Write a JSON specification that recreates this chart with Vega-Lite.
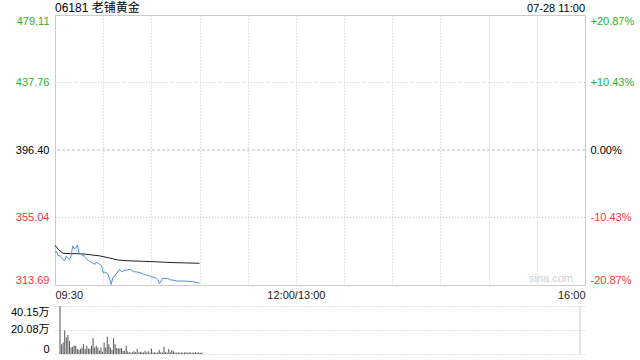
{
  "$schema": "https://vega.github.io/schema/vega-lite/v6.json",
  "padding": {"left": 10, "top": 1, "right": 0, "bottom": 0},
  "background": "white",
  "spacing": 4,
  "config": {
    "font": "Liberation Sans, Noto Sans CJK SC",
    "axis": {"labelFont": "Liberation Sans, Noto Sans CJK SC", "labelFontSize": 11, "ticks": false, "domain": false, "title": null},
    "view": {"stroke": "#ccc"}
  },
  "datasets": {
    "price": [
      {"m": 0, "p": 333.5}, {"m": 1, "p": 334.5}, {"m": 2, "p": 331.5}, {"m": 3, "p": 332.0}, {"m": 4, "p": 330.4},
      {"m": 5, "p": 329.6}, {"m": 6, "p": 328.4}, {"m": 7, "p": 331.5}, {"m": 8, "p": 330.2}, {"m": 9, "p": 329.4},
      {"m": 10, "p": 331.5}, {"m": 11, "p": 337.6}, {"m": 12, "p": 335.8}, {"m": 13, "p": 336.4}, {"m": 14, "p": 338.2},
      {"m": 15, "p": 332.5}, {"m": 16, "p": 333.0}, {"m": 17, "p": 331.5}, {"m": 18, "p": 331.9}, {"m": 19, "p": 330.4},
      {"m": 20, "p": 329.5}, {"m": 21, "p": 328.4}, {"m": 22, "p": 328.0}, {"m": 23, "p": 327.4}, {"m": 24, "p": 326.8},
      {"m": 25, "p": 326.4}, {"m": 26, "p": 327.8}, {"m": 27, "p": 326.9}, {"m": 28, "p": 326.4}, {"m": 29, "p": 325.3},
      {"m": 30, "p": 321.2}, {"m": 31, "p": 321.6}, {"m": 32, "p": 321.0}, {"m": 33, "p": 320.2}, {"m": 34, "p": 317.4},
      {"m": 35, "p": 314.1}, {"m": 36, "p": 318.2}, {"m": 37, "p": 319.0}, {"m": 38, "p": 320.2}, {"m": 39, "p": 321.5},
      {"m": 40, "p": 323.3}, {"m": 41, "p": 322.3}, {"m": 42, "p": 321.8}, {"m": 43, "p": 322.6}, {"m": 45, "p": 322.9},
      {"m": 47, "p": 323.3}, {"m": 49, "p": 321.8}, {"m": 51, "p": 321.7}, {"m": 53, "p": 321.2}, {"m": 55, "p": 320.4},
      {"m": 57, "p": 319.8}, {"m": 59, "p": 319.2}, {"m": 60, "p": 318.6}, {"m": 62, "p": 318.3}, {"m": 63, "p": 317.8},
      {"m": 64, "p": 316.8}, {"m": 65, "p": 314.5}, {"m": 66, "p": 316.1}, {"m": 67, "p": 317.8}, {"m": 70, "p": 317.7},
      {"m": 72, "p": 316.8}, {"m": 74, "p": 316.6}, {"m": 76, "p": 316.1}, {"m": 78, "p": 316.1}, {"m": 81, "p": 316.1},
      {"m": 84, "p": 315.8}, {"m": 86, "p": 315.7}, {"m": 88, "p": 315.2}, {"m": 90, "p": 314.9}
    ],
    "avg": [
      {"m": 0, "a": 338.0}, {"m": 2, "a": 335.6}, {"m": 5, "a": 333.1}, {"m": 10, "a": 332.9}, {"m": 16, "a": 332.9},
      {"m": 22, "a": 332.2}, {"m": 28, "a": 331.5}, {"m": 34, "a": 330.2}, {"m": 39, "a": 329.0}, {"m": 44, "a": 328.6},
      {"m": 49, "a": 328.4}, {"m": 55, "a": 328.2}, {"m": 61, "a": 328.0}, {"m": 67, "a": 327.7}, {"m": 74, "a": 327.4},
      {"m": 82, "a": 327.2}, {"m": 90, "a": 327.0}
    ],
    "vol": [
      {"m": 0, "v": 40.1}, {"m": 1, "v": 8.2}, {"m": 2, "v": 9.6}, {"m": 3, "v": 19.7}, {"m": 4, "v": 13.7},
      {"m": 5, "v": 15.8}, {"m": 6, "v": 10.9}, {"m": 7, "v": 5.5}, {"m": 8, "v": 6.0}, {"m": 9, "v": 6.8},
      {"m": 10, "v": 6.8}, {"m": 11, "v": 4.1}, {"m": 12, "v": 3.5}, {"m": 13, "v": 4.1}, {"m": 14, "v": 5.5},
      {"m": 15, "v": 8.2}, {"m": 16, "v": 4.1}, {"m": 17, "v": 6.8}, {"m": 18, "v": 4.6}, {"m": 19, "v": 4.1},
      {"m": 20, "v": 6.8}, {"m": 21, "v": 13.1}, {"m": 22, "v": 5.5}, {"m": 23, "v": 6.8}, {"m": 24, "v": 5.5},
      {"m": 25, "v": 3.0}, {"m": 26, "v": 5.5}, {"m": 27, "v": 1.9}, {"m": 28, "v": 9.6}, {"m": 29, "v": 5.5},
      {"m": 30, "v": 14.5}, {"m": 31, "v": 8.2}, {"m": 32, "v": 5.5}, {"m": 33, "v": 3.3}, {"m": 34, "v": 13.1},
      {"m": 35, "v": 8.2}, {"m": 36, "v": 5.0}, {"m": 37, "v": 4.6}, {"m": 38, "v": 4.6}, {"m": 39, "v": 5.0},
      {"m": 40, "v": 2.7}, {"m": 41, "v": 2.7}, {"m": 42, "v": 6.8}, {"m": 43, "v": 2.2}, {"m": 44, "v": 1.4},
      {"m": 45, "v": 1.2}, {"m": 46, "v": 1.5}, {"m": 47, "v": 2.2}, {"m": 48, "v": 1.4}, {"m": 49, "v": 4.1},
      {"m": 50, "v": 1.2}, {"m": 51, "v": 1.8}, {"m": 52, "v": 1.4}, {"m": 53, "v": 1.2}, {"m": 54, "v": 2.7},
      {"m": 55, "v": 1.3}, {"m": 56, "v": 2.2}, {"m": 57, "v": 1.1}, {"m": 58, "v": 4.6}, {"m": 59, "v": 1.2},
      {"m": 60, "v": 1.4}, {"m": 61, "v": 1.1}, {"m": 62, "v": 1.3}, {"m": 63, "v": 3.3}, {"m": 64, "v": 1.4},
      {"m": 65, "v": 1.2}, {"m": 66, "v": 6.0}, {"m": 67, "v": 1.4}, {"m": 68, "v": 1.2}, {"m": 69, "v": 4.1},
      {"m": 70, "v": 1.5}, {"m": 71, "v": 3.3}, {"m": 72, "v": 2.2}, {"m": 73, "v": 1.2}, {"m": 74, "v": 1.0},
      {"m": 75, "v": 1.4}, {"m": 76, "v": 1.1}, {"m": 77, "v": 1.3}, {"m": 78, "v": 1.0}, {"m": 79, "v": 1.2},
      {"m": 80, "v": 1.4}, {"m": 81, "v": 1.1}, {"m": 82, "v": 1.5}, {"m": 83, "v": 1.2}, {"m": 84, "v": 1.0},
      {"m": 85, "v": 1.3}, {"m": 86, "v": 1.4}, {"m": 87, "v": 1.1}, {"m": 88, "v": 1.2}, {"m": 89, "v": 1.0},
      {"m": 90, "v": 1.3}
    ],
    "pctgrid": [{"pct": 10.43}, {"pct": -10.43}],
    "pctmid": [{"pct": 0}]
  },
  "vconcat": [
    {
      "width": 530,
      "height": 270,
      "layer": [
        {
          "layer": [
            {
              "data": {"name": "avg"},
              "mark": {"type": "line", "color": "#222", "strokeWidth": 1},
              "encoding": {
                "x": {"field": "m", "type": "quantitative", "scale": {"domain": [0, 330], "nice": false, "zero": false},
                  "axis": {"values": [0, 30, 60, 90, 120, 150, 180, 210, 240, 270, 300, 330], "grid": true, "gridDash": [1, 2], "gridColor": "#c8c8c8",
                    "labelExpr": "datum.value == 0 ? '09:30' : datum.value == 150 ? '12:00/13:00' : datum.value == 330 ? '16:00' : ''",
                    "labelFlush": true, "labelPadding": 4, "labelColor": "#222"}},
                "y": {"field": "a", "type": "quantitative", "scale": {"domain": [313.69, 479.11], "nice": false, "zero": false},
                  "axis": {"orient": "left", "values": [313.69, 355.04, 396.40, 437.76, 479.11], "format": ".2f", "grid": false, "labelFlush": true, "labelPadding": 6,
                    "labelColor": {"condition": [{"test": "datum.value > 396.5", "value": "#2eb02e"}, {"test": "datum.value < 396.3", "value": "#f23a3a"}], "value": "#000"}}}
              }
            },
            {
              "data": {"name": "price"},
              "mark": {"type": "line", "color": "#4a8cf0", "strokeWidth": 1},
              "encoding": {
                "x": {"field": "m", "type": "quantitative"},
                "y": {"field": "p", "type": "quantitative"}
              }
            },
            {
              "data": {"values": [{}]},
              "mark": {"type": "text", "text": "06181 老铺黄金", "align": "left", "baseline": "alphabetic", "dy": -3, "fontSize": 12, "color": "#000"},
              "encoding": {"x": {"datum": 0}, "y": {"datum": 479.11}}
            },
            {
              "data": {"values": [{}]},
              "mark": {"type": "text", "text": "07-28 11:00", "align": "right", "baseline": "alphabetic", "dy": -3, "fontSize": 11, "color": "#000"},
              "encoding": {"x": {"datum": 330}, "y": {"datum": 479.11}}
            },
            {
              "data": {"values": [{}]},
              "mark": {"type": "text", "text": "sina.com", "align": "right", "baseline": "bottom", "dx": -12, "dy": -1, "fontSize": 11, "color": "#d0d0d0"},
              "encoding": {"x": {"datum": 330}, "y": {"datum": 313.69}}
            }
          ]
        },
        {
          "layer": [
            {
              "data": {"name": "pctgrid"},
              "mark": {"type": "rule", "color": "#c8c8c8", "strokeDash": [1, 2], "strokeWidth": 1},
              "encoding": {
                "y": {"field": "pct", "type": "quantitative", "scale": {"domain": [-20.87, 20.87], "nice": false, "zero": false},
                  "axis": {"orient": "right", "values": [-20.87, -10.43, 0, 10.43, 20.87], "grid": false, "labelFlush": true, "labelPadding": 5,
                    "labelExpr": "(datum.value < 0 ? '-' : datum.value > 0 ? '+' : '') + format(abs(datum.value), '.2f') + '%'",
                    "labelColor": {"condition": [{"test": "datum.value > 0.01", "value": "#2eb02e"}, {"test": "datum.value < -0.01", "value": "#f23a3a"}], "value": "#000"}}}
              }
            },
            {
              "data": {"name": "pctmid"},
              "mark": {"type": "rule", "color": "#bdbdbd", "strokeDash": [3, 2], "strokeWidth": 1},
              "encoding": {"y": {"field": "pct", "type": "quantitative"}}
            }
          ]
        }
      ],
      "resolve": {"scale": {"y": "independent"}, "axis": {"y": "independent"}}
    },
    {
      "width": 530,
      "height": 48,
      "view": {"stroke": null},
      "layer": [
        {
          "data": {"name": "vol"},
          "mark": {"type": "bar", "color": "#555", "size": 1},
          "encoding": {
            "x": {"field": "m", "type": "quantitative", "scale": {"domain": [0, 330], "nice": false, "zero": false}, "axis": null},
            "y": {"field": "v", "type": "quantitative", "scale": {"domain": [0, 40.15], "nice": false},
              "axis": {"values": [0, 20.08, 40.15], "labelExpr": "datum.value == 0 ? '0' : format(datum.value, '.2f') + '万'", "labelFlush": true,
                "grid": true, "gridDash": [1, 2], "gridColor": "#c0c0c0", "labelPadding": 6, "labelColor": "#000"}}
          }
        },
        {
          "data": {"values": [{}]},
          "mark": {"type": "rule", "color": "#ccc"},
          "encoding": {"x": {"datum": 330}}
        }
      ]
    }
  ]
}
